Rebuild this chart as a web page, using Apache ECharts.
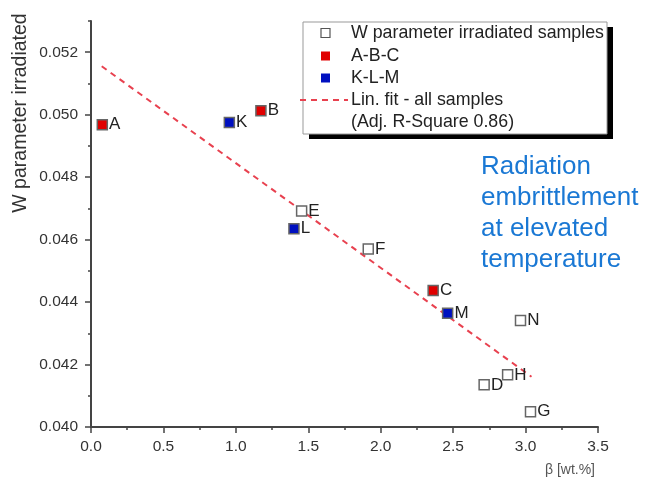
<!DOCTYPE html>
<html>
  <head>
    <meta charset="utf-8" />
    <title>W parameter vs beta</title>
    <script src="https://cdn.jsdelivr.net/npm/echarts@6/dist/echarts.min.js"></script>
    <style>
      html, body { margin: 0; padding: 0; background: #fff; }
    </style>
  </head>
  <body>
    <div id="main" style="width: 652px; height: 478px"></div>

    <script type="text/javascript">
      // samples (beta [wt.%], W parameter, label)
      var openSamples = [
        [1.454, 0.04692, "E"],
        [1.914, 0.0457, "F"],
        [2.714, 0.04135, "D"],
        [2.876, 0.04167, "H"],
        [2.965, 0.04341, "N"],
        [3.034, 0.04049, "G"]
      ];
      var abcSamples = [
        [0.078, 0.04968, "A"],
        [1.173, 0.05013, "B"],
        [2.362, 0.04437, "C"]
      ];
      var klmSamples = [
        [0.955, 0.04975, "K"],
        [1.401, 0.04635, "L"],
        [2.462, 0.04364, "M"]
      ];
      var fitLine = [
        [0.074, 0.05155],
        [3.041, 0.04161]
      ];
      var yTicks = [0.04, 0.042, 0.044, 0.046, 0.048, 0.05, 0.052];
      var legendNames = [
        "W parameter irradiated samples",
        "A-B-C",
        "K-L-M",
        "Lin. fit - all samples",
        "(Adj. R-Square 0.86)"
      ];
      var noteLines = ["Radiation", "embrittlement", "at elevated", "temperature"];

      var FONT = "Liberation Sans, Arial, sans-serif";
      var myChart = echarts.init(document.getElementById("main"));

      var gridBox = { left: 91, top: 21, right: 54, bottom: 51 };

      function scatterSeries(name, data, fill) {
        return {
          name: name,
          type: "scatter",
          symbol: "rect",
          symbolSize: 10,
          z: 5,
          data: data,
          itemStyle: {
            color: fill,
            borderColor: "#666",
            borderWidth: 1.5,
            opacity: 1
          },
          label: {
            show: true,
            position: "right",
            distance: 1,
            formatter: function (p) { return p.data[2]; },
            color: "#222",
            fontSize: 17,
            fontFamily: FONT
          }
        };
      }

      var legendY = [33, 56, 78, 100, 122];
      var legendGraphics = [
        { type: "rect", shape: { x: 309, y: 27, width: 304, height: 112 }, style: { fill: "#000" } },
        { type: "rect", shape: { x: 303, y: 22, width: 304, height: 112 }, style: { fill: "#fff", stroke: "#999", lineWidth: 1 } },
        { type: "rect", shape: { x: 321, y: legendY[0] - 4.5, width: 9, height: 9 }, style: { fill: "#fff", stroke: "#555", lineWidth: 1.2 } },
        { type: "rect", shape: { x: 321, y: legendY[1] - 4.5, width: 9, height: 9 }, style: { fill: "#e00000" } },
        { type: "rect", shape: { x: 321, y: legendY[2] - 4.5, width: 9, height: 9 }, style: { fill: "#0010c0" } },
        { type: "line", shape: { x1: 300, y1: legendY[3], x2: 348, y2: legendY[3] }, style: { stroke: "#e8414f", lineWidth: 2, lineDash: [6, 5] } }
      ];
      legendNames.forEach(function (t, i) {
        legendGraphics.push({
          type: "text",
          x: 351,
          y: legendY[i],
          style: { text: t, fontSize: 17.8, fontFamily: FONT, fill: "#222", verticalAlign: "middle" }
        });
      });

      var noteGraphics = noteLines.map(function (t, i) {
        return {
          type: "text",
          x: 481,
          y: 167 + i * 31,
          style: { text: t, fontSize: 26, fontFamily: FONT, fill: "#1a78d4", verticalAlign: "middle" }
        };
      });

      var option = {
        backgroundColor: "#fff",
        animation: false,
        grid: [
          Object.assign({ containLabel: false }, gridBox),
          Object.assign({ containLabel: false }, gridBox)
        ],
        xAxis: [
          {
            gridIndex: 0,
            type: "value",
            min: 0,
            max: 3.5,
            interval: 0.5,
            axisLine: { show: true, lineStyle: { color: "#444", width: 2 } },
            axisTick: { show: true, inside: false, length: 6, lineStyle: { color: "#444", width: 1.5 } },
            minorTick: { show: true, splitNumber: 2, length: 3, lineStyle: { color: "#444", width: 1.5 } },
            axisLabel: {
              color: "#333",
              fontSize: 15.5,
              fontFamily: FONT,
              margin: 12,
              formatter: function (v) { return v.toFixed(1); }
            },
            splitLine: { show: false }
          },
          {
            gridIndex: 1,
            type: "value",
            min: 0,
            max: 3.5,
            show: false
          }
        ],
        yAxis: [
          {
            gridIndex: 0,
            type: "value",
            min: 0.04,
            max: 0.053,
            interval: 0.002,
            axisLine: { show: true, lineStyle: { color: "#444", width: 2 } },
            axisTick: {
              show: true,
              length: 6,
              customValues: yTicks,
              lineStyle: { color: "#444", width: 1.5 }
            },
            axisLabel: {
              color: "#333",
              fontSize: 15.5,
              fontFamily: FONT,
              margin: 13,
              customValues: yTicks,
              formatter: function (v) { return v.toFixed(3); }
            },
            splitLine: { show: false }
          },
          {
            gridIndex: 1,
            type: "value",
            min: 0.04,
            max: 0.053,
            interval: 0.001,
            axisLine: { show: false },
            axisTick: { show: true, length: 3, lineStyle: { color: "#444", width: 1.5 } },
            axisLabel: { show: false },
            splitLine: { show: false }
          }
        ],
        graphic: legendGraphics.concat(noteGraphics).concat([
          {
            type: "text",
            x: 21,
            y: 113,
            rotation: Math.PI / 2,
            style: {
              text: "W parameter irradiated",
              fontSize: 19.5,
              fontFamily: FONT,
              fill: "#333",
              align: "center",
              verticalAlign: "middle"
            }
          },
          {
            type: "text",
            x: 595,
            y: 470,
            style: {
              text: "\u03b2 [wt.%]",
              fontSize: 14,
              fontFamily: FONT,
              fill: "#555",
              align: "right",
              verticalAlign: "middle"
            }
          }
        ]),
        series: [
          {
            name: "Lin. fit - all samples",
            type: "line",
            data: fitLine,
            symbol: "none",
            z: 3,
            lineStyle: { color: "#e8414f", width: 2, type: [6, 5] }
          },
          scatterSeries("W parameter irradiated samples", openSamples, "#fff"),
          scatterSeries("A-B-C", abcSamples, "#e00000"),
          scatterSeries("K-L-M", klmSamples, "#0010c0")
        ]
      };
      myChart.setOption(option);
    </script>
  </body>
</html>
